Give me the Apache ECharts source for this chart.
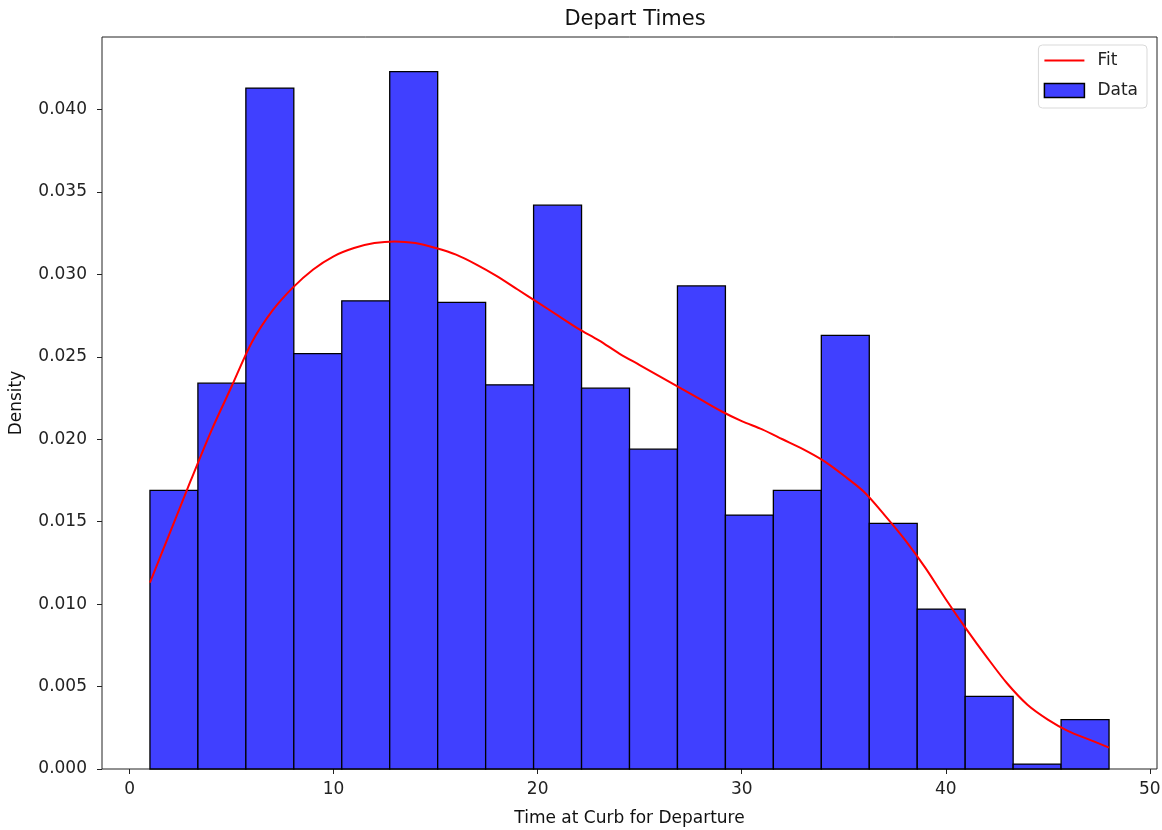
<!DOCTYPE html>
<html>
<head>
<meta charset="utf-8">
<script src="https://cdn.jsdelivr.net/npm/echarts@6/dist/echarts.min.js"></script>
<style>
html, body { margin: 0; padding: 0; background: #fff; }
#chart { width: 1162px; height: 830px; }
</style>
</head>
<body>
<div id="chart"></div>
<script>
// histogram bins (edges) and densities
var binEdges = [1, 3.35, 5.7, 8.05, 10.4, 12.75, 15.1, 17.45, 19.8, 22.15, 24.5,
                26.85, 29.2, 31.55, 33.9, 36.25, 38.6, 40.95, 43.3, 45.65, 48];
var density = [0.0169, 0.0234, 0.0413, 0.0252, 0.0284, 0.0423, 0.0283, 0.0233, 0.0342, 0.0231,
               0.0194, 0.0293, 0.0154, 0.0169, 0.0263, 0.0149, 0.0097, 0.0044, 0.0003, 0.0030];

// fitted curve
var fitX = [1, 2, 3, 4, 5, 6, 7, 8, 9, 10, 11, 12, 13, 14, 15, 16, 17, 18, 19, 20, 21, 22, 23, 24,
            25, 26, 27, 28, 29, 30, 31, 32, 33, 34, 35, 36, 37, 38, 39, 40, 41, 42, 43, 44, 45, 46, 47, 48];
var fitY = [0.0113, 0.0144, 0.0175, 0.0205, 0.0232, 0.0259, 0.0278, 0.0292, 0.0303, 0.0311, 0.0316, 0.0319,
            0.0320, 0.0319, 0.0316, 0.0312, 0.0306, 0.0299, 0.0291, 0.0283, 0.0275, 0.0267, 0.0260, 0.0252,
            0.0245, 0.0238, 0.0231, 0.0224, 0.0217, 0.0211, 0.0206, 0.0200, 0.0194, 0.0187, 0.0178, 0.0168,
            0.0154, 0.0139, 0.0122, 0.0103, 0.0085, 0.0068, 0.0052, 0.0039, 0.0030, 0.0023, 0.0018, 0.0013];

var xTicks = [0, 10, 20, 30, 40, 50];
var yTicks = [0, 0.005, 0.010, 0.015, 0.020, 0.025, 0.030, 0.035, 0.040];

var font = 'DejaVu Sans';

var histData = density.map(function (d, i) { return [binEdges[i], binEdges[i + 1], d]; });
var fitData = fitX.map(function (x, i) { return [x, fitY[i]]; });

var chart = echarts.init(document.getElementById('chart'));
var option = {
    animation: false,
    textStyle: { fontFamily: font },
    title: {
        text: 'Depart Times',
        left: 630,
        textAlign: 'center',
        top: 4,
        textStyle: { fontFamily: font, fontSize: 21, fontWeight: 'normal', color: '#111' }
    },
    legend: {
        orient: 'vertical',
        right: 15,
        top: 45,
        itemWidth: 40,
        itemHeight: 14,
        itemGap: 13,
        padding: [7, 9, 9, 5],
        borderColor: '#d9d9d9',
        borderWidth: 1,
        borderRadius: 4,
        textStyle: { fontFamily: font, fontSize: 17, color: '#222', padding: [0, 0, 0, 8] },
        data: [
            { name: 'Fit', itemStyle: { color: 'rgba(0,0,0,0)', borderWidth: 0 }, lineStyle: { color: '#ff0000', width: 2 } },
            { name: 'Data', icon: 'rect', itemStyle: { color: '#4040ff', borderColor: '#000', borderWidth: 1.5 } }
        ]
    },
    grid: {
        left: 102, right: 5, top: 37, bottom: 61,
        outerBoundsMode: 'none',
        containLabel: false,
        show: true, borderColor: '#222', borderWidth: 1
    },
    xAxis: {
        type: 'value',
        min: -1.35,
        max: 50.35,
        name: 'Time at Curb for Departure',
        nameLocation: 'middle',
        nameGap: 41,
        nameTextStyle: { fontFamily: font, fontSize: 17, color: '#111' },
        splitLine: { show: false },
        axisLine: { show: false, onZero: false },
        axisTick: { show: true, length: 5, lineStyle: { color: '#222' }, customValues: xTicks },
        axisLabel: { color: '#222', fontSize: 17, fontFamily: font, margin: 12, customValues: xTicks }
    },
    yAxis: {
        type: 'value',
        min: 0,
        max: 0.0444,
        name: 'Density',
        nameLocation: 'middle',
        nameGap: 77,
        nameTextStyle: { fontFamily: font, fontSize: 17, color: '#111' },
        splitLine: { show: false },
        axisLine: { show: false, onZero: false },
        axisTick: { show: true, length: 5, lineStyle: { color: '#222' }, customValues: yTicks },
        axisLabel: {
            color: '#222', fontSize: 17, fontFamily: font, margin: 15, customValues: yTicks,
            formatter: function (v) { return v.toFixed(3); }
        }
    },
    series: [
        {
            name: 'Data',
            type: 'custom',
            itemStyle: { color: '#4040ff' },
            data: histData,
            encode: { x: [0, 1], y: 2 },
            renderItem: function (params, api) {
                var p0 = api.coord([api.value(0), api.value(2)]);
                var p1 = api.coord([api.value(1), 0]);
                return {
                    type: 'rect',
                    shape: { x: p0[0], y: p0[1], width: p1[0] - p0[0], height: p1[1] - p0[1] },
                    style: { fill: '#4040ff', stroke: '#000', lineWidth: 1.3 }
                };
            },
            z: 2
        },
        {
            name: 'Fit',
            type: 'line',
            data: fitData,
            smooth: 0.3,
            showSymbol: false,
            symbol: 'none',
            lineStyle: { color: '#ff0000', width: 2 },
            itemStyle: { color: '#ff0000' },
            z: 3
        }
    ]
};
chart.setOption(option);
</script>
</body>
</html>
